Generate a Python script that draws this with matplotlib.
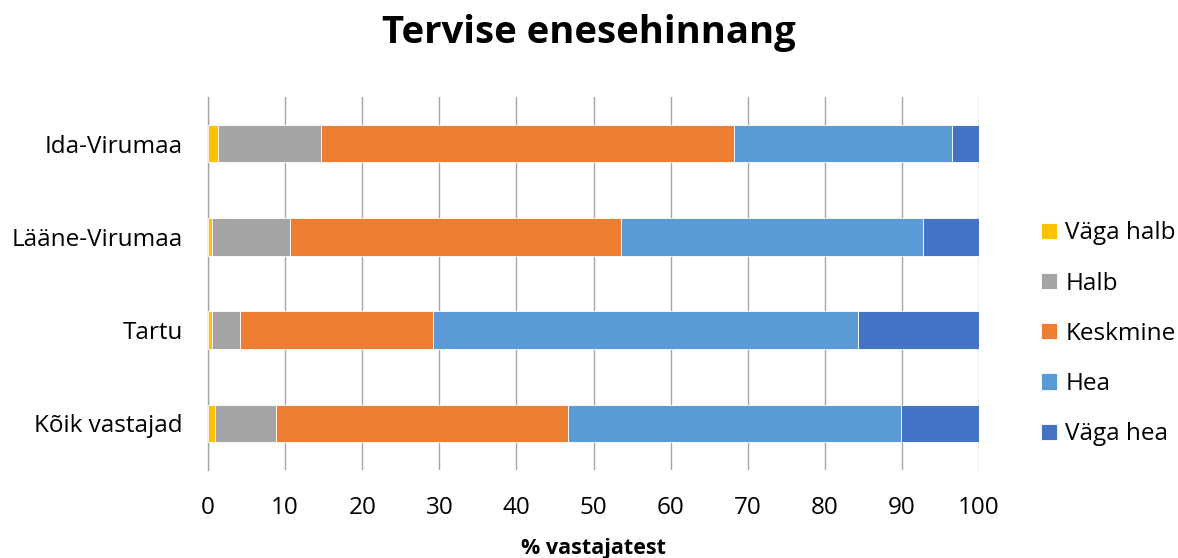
import matplotlib
matplotlib.use("Agg")
import matplotlib.pyplot as plt
import numpy as np

# ---- data (percent of respondents) ----------------------------------------
regions = ["Kõik vastajad", "Tartu", "Lääne-Virumaa", "Ida-Virumaa"]
vaga_halb = [0.9, 0.5, 0.5, 1.3]
halb = [7.9, 3.6, 10.1, 13.4]
keskmine = [37.9, 25.1, 43.0, 53.5]
hea = [43.2, 55.1, 39.1, 28.3]
vaga_hea = [10.1, 15.7, 7.3, 3.5]

series_labels = ["Väga halb", "Halb", "Keskmine", "Hea", "Väga hea"]
colours = ["#FFC000", "#A5A5A5", "#ED7D31", "#5B9BD5", "#4472C4"]

plt.rcParams["font.family"] = ["Open Sans", "DejaVu Sans"]

fig = plt.figure(figsize=(11.78, 5.58), dpi=100)
ax = fig.add_axes([0.1766, 0.158, 0.6545, 0.668])

y = np.arange(len(regions))
left = np.zeros(len(regions))
for vals, lab, col in zip([vaga_halb, halb, keskmine, hea, vaga_hea],
                          series_labels, colours):
    ax.barh(y, vals, left=left, height=0.4, color=col, label=lab,
            edgecolor="white", linewidth=0.6, zorder=3)
    left += np.array(vals)

ax.set_xlim(0, 100)
ax.set_ylim(-0.5, len(regions) - 0.5)
ax.set_xticks(np.arange(0, 101, 10))
ax.set_yticks(y)
ax.set_yticklabels(regions)
ax.tick_params(axis="both", length=0, labelsize=17.5, colors="#000000")
ax.tick_params(axis="x", pad=19)
ax.tick_params(axis="y", pad=18)
ax.grid(axis="x", color="#A6A6A6", lw=1.0, zorder=0)

for side in ["top", "right", "bottom"]:
    ax.spines[side].set_visible(False)
ax.spines["left"].set_color("#A6A6A6")
ax.spines["left"].set_linewidth(1.0)

ax.set_xlabel("% vastajatest", fontsize=15.5, fontweight="bold", labelpad=13)
fig.suptitle("Tervise enesehinnang", fontsize=27.5, fontweight="bold",
             x=0.5, y=0.975)

ax.legend(loc="center left", bbox_to_anchor=(1.052, 0.365), frameon=False,
          fontsize=17.5, handlelength=0.65, handleheight=0.65,
          handletextpad=0.35, labelspacing=1.08)

fig.savefig("out.png", dpi=100)
